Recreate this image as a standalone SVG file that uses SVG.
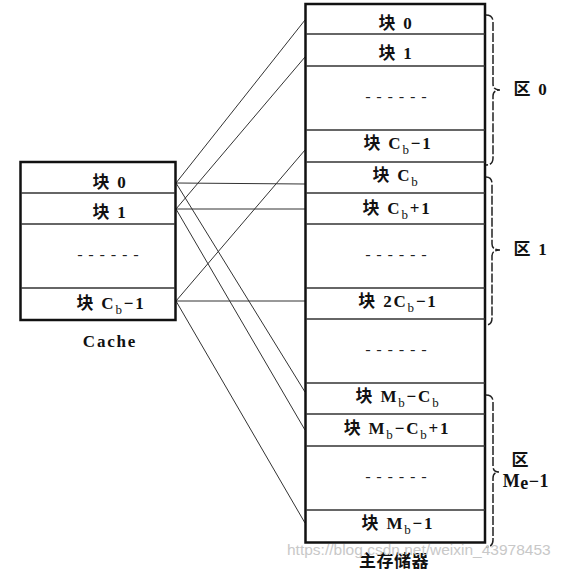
<svg xmlns="http://www.w3.org/2000/svg" width="569" height="571" viewBox="0 0 569 571">
<style>
.t{font-family:"Liberation Serif","Noto Sans CJK SC",serif;font-size:17px;font-weight:bold;fill:#111;text-anchor:middle;letter-spacing:1.8px}
.s{font-size:13px;font-weight:normal}
.d{font-family:"Liberation Mono",monospace;font-size:15px;fill:#222;text-anchor:middle;letter-spacing:2.2px}
.box{fill:#fff;stroke:#111;stroke-width:2.5}
.row{stroke:#333;stroke-width:1.5}
.c{stroke:#333;stroke-width:1;fill:none}
.br{stroke:#222;stroke-width:1.5;fill:none;stroke-dasharray:9,2}
.wm{font-family:"Liberation Sans",sans-serif;font-size:15.5px;fill:#c8c8c8}
</style>
<rect width="569" height="571" fill="#fff"/>
<g id="connectors">
<line class="c" x1="176" y1="183" x2="305" y2="20"/>
<line class="c" x1="176" y1="183" x2="305" y2="184"/>
<line class="c" x1="176" y1="183" x2="305" y2="392"/>
<line class="c" x1="176" y1="209" x2="305" y2="57"/>
<line class="c" x1="176" y1="209" x2="305" y2="209"/>
<line class="c" x1="176" y1="209" x2="305" y2="430"/>
<line class="c" x1="176" y1="301" x2="305" y2="150"/>
<line class="c" x1="176" y1="301" x2="305" y2="301"/>
<line class="c" x1="176" y1="301" x2="305" y2="523"/>
</g>
<g id="cache">
<rect class="box" x="20.5" y="162" width="155" height="158"/>
<line class="row" x1="21" y1="193" x2="175" y2="193"/>
<line class="row" x1="21" y1="224" x2="175" y2="224"/>
<line class="row" x1="21" y1="288" x2="175" y2="288"/>
<text class="t" x="110" y="188">块 0</text>
<text class="t" x="110" y="218">块 1</text>
<text class="d" x="109" y="260">------</text>
<text class="t" x="111" y="309">块 C<tspan class="s" dy="5">b</tspan><tspan dy="-5">−1</tspan></text>
<text class="t" x="110" y="347">Cache</text>
</g>
<g id="memory">
<rect class="box" x="305.5" y="4" width="179.5" height="538.5"/>
<line class="row" x1="306" y1="34" x2="485" y2="34"/>
<line class="row" x1="306" y1="66" x2="485" y2="66"/>
<line class="row" x1="306" y1="130" x2="485" y2="130"/>
<line class="row" x1="306" y1="162" x2="485" y2="162"/>
<line class="row" x1="306" y1="193" x2="485" y2="193"/>
<line class="row" x1="306" y1="224" x2="485" y2="224"/>
<line class="row" x1="306" y1="288" x2="485" y2="288"/>
<line class="row" x1="306" y1="319" x2="485" y2="319"/>
<line class="row" x1="306" y1="383" x2="485" y2="383"/>
<line class="row" x1="306" y1="414" x2="485" y2="414"/>
<line class="row" x1="306" y1="446" x2="485" y2="446"/>
<line class="row" x1="306" y1="510" x2="485" y2="510"/>
<text class="t" x="396" y="29">块 0</text>
<text class="t" x="396" y="59">块 1</text>
<text class="d" x="397" y="102">------</text>
<text class="t" x="398" y="149">块 C<tspan class="s" dy="5">b</tspan><tspan dy="-5">−1</tspan></text>
<text class="t" x="396" y="181">块 C<tspan class="s" dy="5">b</tspan></text>
<text class="t" x="397" y="214">块 C<tspan class="s" dy="5">b</tspan><tspan dy="-5">+1</tspan></text>
<text class="d" x="397" y="260">------</text>
<text class="t" x="398" y="307">块 2C<tspan class="s" dy="5">b</tspan><tspan dy="-5">−1</tspan></text>
<text class="d" x="397" y="355">------</text>
<text class="t" x="398" y="402">块 M<tspan class="s" dy="5">b</tspan><tspan dy="-5">−C</tspan><tspan class="s" dy="5">b</tspan></text>
<text class="t" x="397" y="434">块 M<tspan class="s" dy="5">b</tspan><tspan dy="-5">−C</tspan><tspan class="s" dy="5">b</tspan><tspan dy="-5">+1</tspan></text>
<text class="d" x="397" y="482">------</text>
<text class="t" x="398" y="529">块 M<tspan class="s" dy="5">b</tspan><tspan dy="-5">−1</tspan></text>
<text class="t" x="394" y="567" style="letter-spacing:0.5px">主存储器</text>
</g>
<g id="zone0">
<path class="br" d="M486,15 Q493,15 493,22 L493,84 Q493,90 500,90 Q493,90 493,96 L493,158 Q493,165 486,165"/>
<text class="t" x="531" y="95">区 0</text>
</g>
<g id="zone1">
<path class="br" d="M486,177 Q492,177 492,184 L492,244 Q492,250 500,250 Q492,250 492,256 L492,318 Q492,325 486,325"/>
<text class="t" x="531" y="255">区 1</text>
</g>
<g id="zoneM">
<path class="br" d="M486,395 Q493,395 493,402 L493,466 Q493,472 499,472 Q493,472 493,478 L493,540 Q493,547 486,547"/>
<text class="t" x="521" y="466">区</text>
<text class="t" x="526" y="487" style="font-size:18px;letter-spacing:0.5px">M<tspan dy="2">e</tspan><tspan dy="-2">−1</tspan></text>
</g>
<text class="wm" x="287" y="555">https://blog.csdn.net/weixin_43978453</text>
</svg>
